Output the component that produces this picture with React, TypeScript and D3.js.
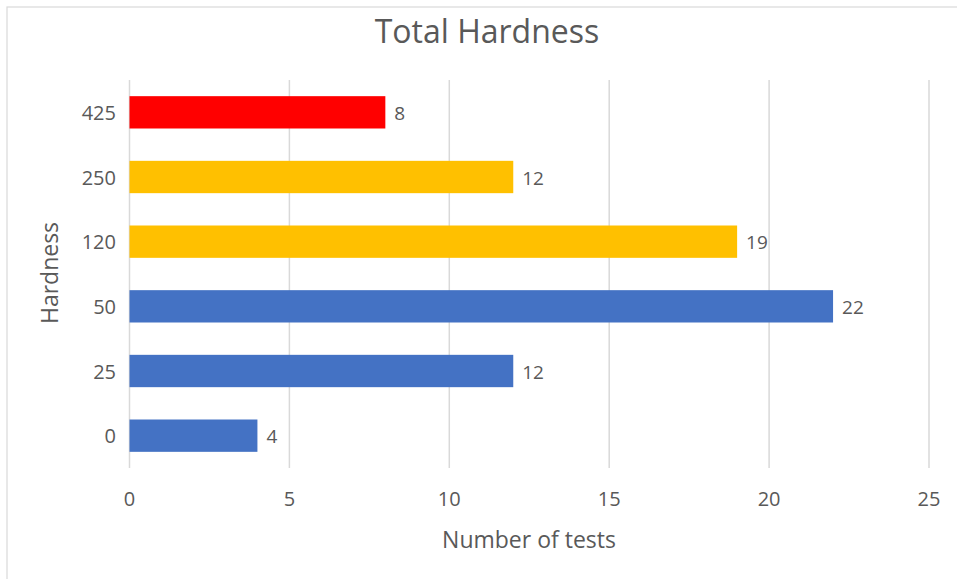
import React from "react";
import * as d3 from "d3";

const categories = ["425", "250", "120", "50", "25", "0"];
const values = [8, 12, 19, 22, 12, 4];
const colors = ["#FF0000", "#FFC000", "#FFC000", "#4472C4", "#4472C4", "#4472C4"];
const xTicks = [0, 5, 10, 15, 20, 25];

const W = 957, H = 579;
const font = "'Open Sans', sans-serif";
const txt = "#595959";

export default function App() {
  const x = d3.scaleLinear().domain([0, 25]).range([129.5, 929]);
  const y = d3.scaleBand().domain(categories).range([80, 468]).paddingInner(0.5).paddingOuter(0.25);
  return (
    <svg width={W} height={H} style={{ position: "absolute", left: 0, top: 0, background: "#fff" }}>
      <rect x={7} y={7} width={W + 10} height={H + 10} fill="#fff" stroke="#d9d9d9" strokeWidth={1.2} />
      <text x={487} y={43} textAnchor="middle" fontFamily={font} fontSize={32} fill={txt}>Total Hardness</text>
      {xTicks.map((t) => (
        <line key={t} x1={x(t)} x2={x(t)} y1={80} y2={468} stroke="#d9d9d9" strokeWidth={1.5} />
      ))}
      {categories.map((c, i) => (
        <g key={c}>
          <rect x={x(0)} y={y(c)} width={x(values[i]) - x(0)} height={y.bandwidth()} fill={colors[i]} />
          <text x={x(values[i]) + 9} y={y(c)! + y.bandwidth() / 2 + 7.5} fontFamily={font} fontSize={19} fill={txt}>{values[i]}</text>
          <text x={116} y={y(c)! + y.bandwidth() / 2 + 7.5} textAnchor="end" fontFamily={font} fontSize={20} fill={txt}>{c}</text>
        </g>
      ))}
      {xTicks.map((t) => (
        <text key={t} x={x(t)} y={506} textAnchor="middle" fontFamily={font} fontSize={20} fill={txt}>{t}</text>
      ))}
      <text x={529} y={548} textAnchor="middle" fontFamily={font} fontSize={23} fill={txt}>Number of tests</text>
      <text transform="translate(58,273) rotate(-90)" textAnchor="middle" fontFamily={font} fontSize={23} fill={txt}>Hardness</text>
    </svg>
  );
}
